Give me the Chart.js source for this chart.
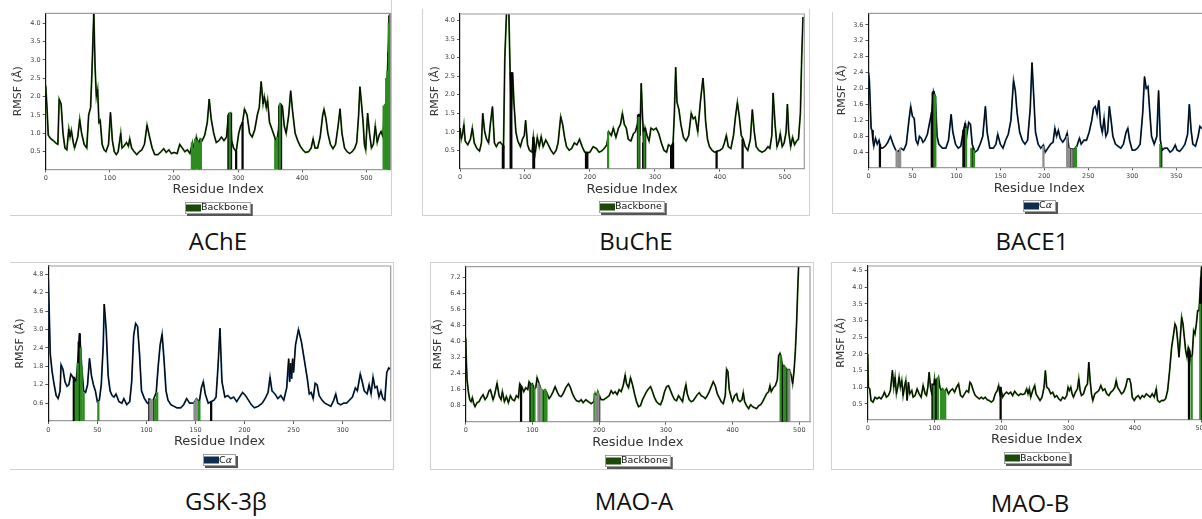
<!DOCTYPE html>
<html>
<head>
<meta charset="utf-8">
<script src="https://cdn.jsdelivr.net/npm/chart.js@4.4.1/dist/chart.umd.min.js"></script>
<style>
  body { margin: 0; width: 1202px; height: 519px; overflow: hidden; position: relative; background: #fff; }
  .frame { position: absolute; box-sizing: border-box; border: 0 solid #d0d0d0; }
  .name { position: absolute; font-family: "Open Sans", sans-serif; font-size: 24px; color: #111; transform: translate(-50%, -50%); white-space: nowrap; }
  canvas { position: absolute; }
</style>
</head>
<body>
<div class="frame" style="left:10px;top:-2px;width:382px;height:218px;border-right-width:1px;border-bottom-width:1px"></div>
<div class="frame" style="left:422px;top:9px;width:388px;height:207px;border-left-width:1px;border-right-width:1px;border-bottom-width:1px"></div>
<div class="frame" style="left:832px;top:12px;width:400px;height:202px;border-left-width:1px;border-bottom-width:1px"></div>
<div class="frame" style="left:10px;top:262px;width:384px;height:208px;border-top-width:1px;border-right-width:1px;border-bottom-width:1px"></div>
<div class="frame" style="left:430px;top:262px;width:384px;height:208px;border-width:1px"></div>
<div class="frame" style="left:831px;top:262px;width:400px;height:208px;border-left-width:1px;border-top-width:1px;border-bottom-width:1px"></div>

<div class="name" style="left:218px;top:240px">AChE</div>
<div class="name" style="left:636px;top:240px">BuChE</div>
<div class="name" style="left:1032px;top:240px">BACE1</div>
<div class="name" style="left:226px;top:500px">GSK-3β</div>
<div class="name" style="left:634px;top:500px">MAO-A</div>
<div class="name" style="left:1030px;top:502px">MAO-B</div>

<script>
// tick labels
var res500Ticks = [0, 100, 200, 300, 400, 500];
var res350Ticks = [0, 50, 100, 150, 200, 250, 300, 350];
var res300Ticks = [0, 50, 100, 150, 200, 250, 300];
var acheYTicks = [0.5, 1.0, 1.5, 2.0, 2.5, 3.0, 3.5, 4.0];
var buchYTicks = [0.5, 1.0, 1.5, 2.0, 2.5, 3.0, 3.5, 4.0];
var baceYTicks = [0.4, 0.8, 1.2, 1.6, 2.0, 2.4, 2.8, 3.2, 3.6];
var gskYTicks = [0.6, 1.2, 1.8, 2.4, 3.0, 3.6, 4.2, 4.8];
var maoaYTicks = [0.8, 1.6, 2.4, 3.2, 4.0, 4.8, 5.6, 6.4, 7.2];
var maobYTicks = [0.5, 1.0, 1.5, 2.0, 2.5, 3.0, 3.5, 4.0, 4.5];

// ---- AChE (backbone) ----
var acheRes = [
  0, 2, 4, 8, 12, 16, 19, 21, 24, 27,
  30, 33, 36, 38, 40, 43, 45, 50, 53, 56,
  60, 64, 67, 70, 72, 75, 77, 79, 81, 83,
  85, 88, 91, 94, 98, 101, 104, 107, 110, 113,
  117, 119, 122, 126, 129, 131, 134, 138, 142, 146,
  150, 154, 158, 162, 166, 170, 175, 180, 184, 188,
  192, 196, 200, 205, 209, 213, 217, 221, 225, 229,
  232, 235, 238, 241, 244, 248, 252, 255, 258, 262,
  266, 270, 274, 278, 282, 285, 288, 290, 293, 297,
  301, 304, 307, 310, 314, 318, 322, 326, 330, 333,
  336, 339, 341, 344, 346, 349, 353, 357, 360, 363,
  366, 369, 372, 375, 379, 382, 385, 389, 393, 397,
  401, 405, 410, 414, 417, 420, 424, 428, 432, 434,
  437, 440, 444, 448, 452, 456, 459, 462, 466, 470,
  474, 478, 482, 485, 488, 490, 492, 495, 497, 499,
  502, 505, 508, 511, 514, 517, 520, 523, 526, 528,
  531, 533, 536, 538];
var acheRmsf = [
  2.3, 1.7, 0.95, 0.85, 0.8, 0.73, 0.7, 1.93, 1.8, 1.0,
  0.6, 0.55, 1.12, 0.9, 1.08, 0.75, 0.6, 0.9, 1.38, 1.0,
  0.7, 0.6, 1.5, 1.7, 2.6, 4.3, 2.8, 2.0, 2.2, 1.3,
  1.35, 0.7, 0.55, 0.5, 0.7, 1.57, 0.8, 0.5, 0.42, 0.5,
  1.0, 0.6, 0.65, 0.75, 0.65, 0.85, 0.6, 0.5, 0.42, 0.5,
  0.55, 0.7, 1.22, 0.9, 0.6, 0.42, 0.42, 0.5, 0.58, 0.48,
  0.55, 0.45, 0.48, 0.45, 0.7, 0.6, 0.5, 0.55, 0.45, 0.75,
  0.5, 0.9, 0.7, 0.85, 0.8, 0.95, 1.3, 1.93, 1.4, 1.0,
  0.75, 0.8, 0.9, 0.8, 0.9, 1.5, 1.55, 0.8, 0.6, 0.5,
  1.0, 1.2, 1.3, 1.66, 1.5, 1.0, 0.9, 1.1, 1.5, 1.7,
  2.41, 1.8, 2.0, 1.7, 1.9, 1.3, 1.1, 0.9, 0.7, 1.1,
  1.8, 1.75, 1.2, 1.0, 1.5, 2.16, 1.6, 1.0, 0.8, 0.65,
  0.55, 0.48, 0.5, 0.6, 0.85, 0.6, 0.6, 0.9, 1.5, 1.65,
  1.4, 1.0, 0.7, 0.58, 0.7, 1.2, 1.67, 1.0, 0.6, 0.5,
  0.45, 0.5, 0.6, 0.75, 1.5, 2.27, 1.9, 1.3, 0.7, 0.55,
  1.55, 1.0, 0.6, 0.7, 1.2, 0.75, 0.95, 1.05, 0.9, 1.7,
  1.8, 2.7, 4.2, 4.3];
var acheGreenRes = [228, 230, 233, 236, 239, 242, 287, 358, 361, 365, 527, 529, 531, 533, 535, 537];
var acheGreenRmsf = [0.75, 0.6, 0.85, 0.8, 0.75, 0.85, 1.55, 0.8, 0.9, 1.8, 1.75, 1.8, 2.5, 2.7, 4.0, 4.25];
var acheDarkRes = [231, 240, 285, 286, 289, 297, 307, 364, 366, 367, 534, 536];
var acheDarkRmsf = [0.5, 0.8, 1.5, 1.55, 1.55, 0.5, 1.3, 1.75, 1.8, 1.75, 3.2, 4.2];

// ---- BuChE (backbone) ----
var buchRes = [
  0, 2, 4, 6, 8, 12, 16, 19, 22, 26,
  30, 33, 35, 38, 41, 44, 47, 50, 53, 56,
  59, 62, 65, 67, 69, 72, 75, 77, 79, 81,
  83, 86, 89, 93, 96, 99, 101, 104, 107, 111,
  113, 116, 119, 122, 125, 128, 132, 136, 140, 144,
  148, 151, 155, 158, 161, 164, 168, 172, 176, 180,
  184, 188, 192, 196, 200, 205, 210, 214, 218, 222,
  226, 229, 233, 236, 240, 244, 247, 250, 253, 256,
  259, 263, 267, 270, 273, 275, 277, 279, 281, 283,
  285, 288, 291, 294, 298, 302, 306, 310, 314, 318,
  321, 325, 328, 330, 332, 334, 337, 340, 344, 348,
  352, 356, 359, 362, 366, 370, 374, 376, 378, 381,
  384, 388, 392, 396, 400, 404, 407, 410, 413, 417,
  421, 424, 427, 430, 433, 436, 439, 443, 447, 450,
  453, 456, 460, 465, 470, 474, 477, 480, 482, 485,
  488, 491, 493, 496, 499, 502, 504, 506, 509, 512,
  515, 518, 521, 524, 526, 528];
var buchRmsf = [
  1.1, 0.8, 0.95, 1.19, 0.75, 0.65, 0.8, 1.1, 0.7, 0.55,
  0.48, 0.7, 1.5, 1.0, 0.8, 0.7, 1.25, 1.68, 0.7, 0.6,
  0.7, 0.72, 0.65, 0.6, 3.0, 4.4, 4.4, 2.7, 1.6, 2.6,
  1.8, 1.0, 0.75, 0.6, 0.8, 0.9, 1.31, 0.65, 0.5, 0.45,
  0.87, 0.45, 0.85, 0.6, 0.87, 0.6, 0.78, 0.65, 0.5, 0.4,
  0.5, 0.7, 1.41, 1.2, 0.85, 0.6, 0.5, 0.55, 0.7, 0.65,
  0.8, 0.6, 0.45, 0.43, 0.45, 0.6, 0.55, 0.45, 0.48, 0.55,
  0.65, 1.0, 0.9, 1.1, 0.85, 1.1, 1.2, 1.5, 1.2, 1.1,
  0.8, 0.75, 0.95, 1.0, 1.2, 1.48, 0.9, 2.31, 1.4, 0.7,
  1.1, 0.9, 0.75, 1.1, 1.05, 1.1, 0.95, 0.7, 0.5, 0.45,
  0.65, 0.6, 0.7, 1.5, 2.74, 1.8, 1.6, 1.2, 0.85, 0.75,
  0.9, 1.5, 1.35, 1.4, 1.0, 1.8, 2.45, 2.0, 1.3, 0.8,
  0.6, 0.5, 0.45, 0.48, 0.5, 0.55, 0.7, 0.9, 0.6, 0.55,
  0.9, 1.4, 1.79, 1.4, 0.9, 0.8, 0.6, 0.5, 0.8, 1.6,
  1.0, 0.6, 0.5, 0.45, 0.5, 0.6, 0.55, 0.9, 2.05, 1.2,
  0.6, 0.75, 0.95, 0.6, 0.7, 1.0, 1.75, 1.0, 0.6, 0.85,
  0.65, 0.75, 0.8, 1.5, 3.0, 4.1];
var buchGreenRes = [228, 275, 284];
var buchGreenRmsf = [1.0, 1.4, 1.0];
var buchDarkRes = [66, 67, 78, 79, 113, 114, 194, 195, 196, 274, 276, 282, 283, 285, 325, 327, 328, 395, 435];
var buchDarkRmsf = [0.6, 0.62, 2.6, 2.6, 0.85, 0.5, 0.45, 0.43, 0.45, 1.45, 1.48, 0.7, 1.1, 1.1, 0.6, 0.65, 0.7, 0.46, 0.8];

// ---- BACE1 (C-alpha) ----
var baceRes = [
  0, 1, 3, 4, 5, 6, 8, 10, 12, 14,
  16, 19, 22, 25, 28, 31, 34, 37, 40, 43,
  46, 48, 50, 52, 54, 56, 58, 60, 62, 64,
  67, 70, 72, 74, 76, 78, 80, 84, 88, 91,
  94, 96, 99, 102, 105, 108, 110, 112, 114, 116,
  118, 121, 124, 127, 130, 133, 135, 138, 142, 145,
  147, 150, 153, 156, 159, 162, 165, 167, 169, 172,
  175, 178, 181, 184, 186, 188, 190, 193, 196, 199,
  201, 204, 207, 210, 212, 214, 216, 218, 221, 224,
  226, 228, 231, 234, 237, 240, 242, 245, 248, 251,
  254, 256, 258, 260, 262, 264, 266, 268, 270, 272,
  274, 276, 278, 281, 284, 287, 290, 293, 295, 297,
  300, 303, 306, 309, 312, 314, 316, 318, 320, 322,
  325, 328, 330, 332, 334, 337, 340, 343, 346, 349,
  351, 354, 357, 360, 363, 365, 367, 369, 372, 375,
  377, 379, 381, 385];
var baceRmsf = [
  2.4, 2.2, 1.0, 0.95, 0.7, 0.55, 0.75, 0.6, 0.7, 0.5,
  0.5, 0.55, 0.65, 0.8, 0.6, 0.45, 0.4, 0.5, 0.45, 0.6,
  1.2, 1.55, 1.3, 1.25, 0.7, 0.6, 0.8, 0.75, 0.65, 0.7,
  0.85, 1.2, 1.4, 1.93, 1.8, 0.8, 0.6, 0.5, 0.5, 0.7,
  1.35, 0.9, 0.6, 0.5, 0.55, 0.95, 1.12, 0.85, 1.15, 1.1,
  0.6, 0.4, 0.45, 0.6, 0.8, 1.55, 0.9, 0.5, 0.5, 0.6,
  0.85, 0.6, 0.5, 0.7, 0.85, 1.2, 2.2, 1.95, 1.4, 0.9,
  0.7, 0.6, 0.7, 1.5, 2.65, 1.8, 0.9, 0.6, 0.5, 0.58,
  0.4, 0.5, 0.6, 0.65, 1.0, 0.8, 0.95, 0.75, 0.65, 0.75,
  0.88, 0.5, 0.48, 0.47, 0.55, 0.75, 0.6, 0.7, 0.7, 0.9,
  1.2, 1.5, 1.55, 1.35, 1.7, 1.1, 0.9, 1.25, 0.8, 0.9,
  1.55, 1.2, 0.8, 0.6, 0.55, 0.5, 0.6, 0.9, 1.0, 0.7,
  0.45, 0.45, 0.5, 0.6, 1.4, 2.3, 2.0, 2.05, 1.4, 0.8,
  0.6, 0.8, 1.95, 0.7, 0.45, 0.5, 0.5, 0.4, 0.45, 0.58,
  0.45, 0.42, 0.5, 0.6, 0.85, 1.6, 0.95, 0.6, 0.55, 0.8,
  1.05, 1.0, 1.0, 1.05];
var baceGreenRes = [75, 76, 111, 117, 120, 234, 236, 332];
var baceGreenRmsf = [1.85, 1.8, 1.0, 0.5, 0.45, 0.47, 0.55, 0.6];
var baceDarkRes = [13, 35, 72, 73, 74, 108, 110, 119, 230, 233, 333];
var baceDarkRmsf = [0.6, 0.45, 1.4, 1.9, 1.93, 0.95, 1.12, 0.5, 0.48, 0.47, 0.5];
var baceGreyRes = [32, 34, 36, 199, 226, 228, 231];
var baceGreyRmsf = [0.45, 0.4, 0.5, 0.55, 0.8, 0.5, 0.48];

// ---- GSK-3beta (C-alpha) ----
var gskRes = [
  0, 1, 2, 4, 6, 8, 10, 12, 13, 15,
  17, 19, 21, 23, 26, 28, 30, 32, 34, 36,
  38, 40, 42, 44, 46, 48, 50, 52, 54, 56,
  57, 59, 61, 63, 65, 67, 69, 72, 75, 77,
  80, 83, 85, 87, 89, 91, 93, 95, 98, 101,
  104, 107, 110, 112, 114, 116, 118, 120, 122, 125,
  128, 131, 135, 138, 141, 144, 148, 151, 154, 156,
  158, 160, 163, 166, 169, 171, 173, 175, 177, 180,
  183, 186, 189, 192, 195, 198, 201, 204, 207, 210,
  214, 218, 221, 224, 226, 228, 231, 234, 237, 240,
  243, 245, 246, 247, 248, 249, 250, 252, 255, 258,
  261, 264, 266, 268, 270, 272, 274, 276, 279, 282,
  285, 288, 291, 293, 295, 298, 301, 304, 307, 310,
  313, 315, 318, 320, 322, 325, 327, 329, 331, 333,
  335, 337, 339, 341, 343, 345, 347, 349];
var gskRmsf = [
  4.65, 3.5, 2.2, 1.6, 1.2, 0.85, 0.75, 1.0, 1.85, 1.7,
  1.3, 1.15, 1.2, 1.55, 1.4, 1.2, 1.9, 2.88, 1.8, 1.0,
  0.95, 1.2, 2.06, 1.5, 1.2, 1.0, 0.65, 0.7, 1.2, 2.5,
  3.83, 3.0, 1.5, 1.0, 0.85, 0.8, 0.9, 0.65, 0.6, 0.75,
  0.55, 0.65, 1.3, 2.8, 3.2, 3.1, 2.2, 1.0, 0.75, 0.6,
  0.65, 0.7, 0.95, 1.8, 2.5, 2.85, 2.0, 1.0, 0.7, 0.55,
  0.5, 0.45, 0.45, 0.55, 0.75, 0.6, 0.6, 0.75, 0.65, 1.1,
  1.3, 0.9, 0.6, 0.65, 0.7, 0.8, 1.8, 3.04, 1.3, 0.8,
  0.85, 0.75, 0.8, 0.65, 0.8, 0.95, 0.85, 0.7, 0.55, 0.45,
  0.5, 0.6, 0.75, 0.95, 1.45, 1.0, 0.9, 0.75, 0.85, 0.7,
  1.1, 2.05, 1.3, 1.9, 1.4, 2.05, 1.6, 2.5, 3.0, 2.6,
  2.0, 1.4, 0.9, 0.95, 0.75, 1.25, 1.2, 0.85, 0.7, 0.6,
  0.55, 0.5, 0.7, 0.9, 0.6, 0.55, 0.6, 0.6, 0.7, 0.8,
  1.1, 1.0, 1.55, 1.3, 1.0, 0.9, 1.2, 0.9, 1.45, 1.1,
  1.15, 0.8, 1.0, 0.75, 0.7, 1.6, 1.75, 1.7];
var gskGreenRes = [28, 29, 30, 33, 34, 36, 51, 105, 109, 111, 153, 154];
var gskGreenRmsf = [1.3, 1.2, 1.9, 2.4, 1.8, 0.95, 0.65, 0.7, 0.75, 0.95, 0.68, 0.65];
var gskDarkRes = [26, 27, 31, 32, 103, 107, 166];
var gskDarkRmsf = [1.45, 1.4, 2.6, 2.85, 0.75, 0.7, 0.65];
var gskGreyRes = [104, 106, 149, 150, 151];
var gskGreyRmsf = [0.7, 0.72, 0.62, 0.7, 0.75];

// ---- MAO-A (backbone) ----
var maoaRes = [
  0, 1, 2, 4, 6, 8, 10, 12, 14, 17,
  20, 23, 26, 29, 32, 35, 37, 39, 41, 43,
  47, 50, 53, 55, 58, 61, 64, 67, 70, 73,
  76, 79, 81, 84, 87, 90, 93, 95, 98, 100,
  102, 105, 107, 110, 113, 116, 119, 122, 125, 128,
  131, 134, 137, 140, 143, 146, 150, 154, 157, 160,
  163, 166, 170, 173, 176, 180, 184, 188, 192, 194,
  196, 198, 200, 203, 207, 211, 215, 218, 221, 224,
  227, 230, 233, 236, 239, 241, 244, 247, 250, 253,
  256, 259, 262, 265, 268, 271, 274, 277, 280, 283,
  286, 289, 292, 295, 298, 301, 304, 307, 310, 313,
  316, 319, 322, 325, 327, 330, 332, 335, 338, 341,
  344, 347, 350, 353, 356, 359, 362, 365, 368, 371,
  374, 377, 380, 383, 386, 389, 391, 393, 395, 398,
  400, 403, 406, 408, 411, 414, 416, 418, 421, 424,
  427, 430, 433, 436, 439, 442, 445, 448, 451, 454,
  456, 458, 461, 464, 467, 469, 471, 473, 475, 477,
  479, 482, 485, 488, 490, 492, 494, 496, 498, 499];
var maoaRmsf = [
  4.2, 3.0, 2.1, 1.5, 1.1, 1.0, 1.2, 0.9, 0.75, 0.95,
  1.0, 1.2, 1.35, 1.1, 1.25, 1.55, 1.6, 1.35, 1.1, 1.3,
  1.92, 1.3, 1.1, 1.5, 1.0, 1.25, 0.95, 1.3, 1.1, 1.05,
  1.3, 1.2, 1.9, 1.75, 1.5, 1.7, 1.6, 2.0, 1.85, 1.9,
  1.6, 1.7, 2.2, 1.9, 1.6, 1.5, 1.6, 1.4, 1.15, 1.3,
  1.5, 1.75, 1.5, 1.3, 1.25, 1.4, 1.7, 1.9, 1.7, 1.4,
  1.2, 1.05, 1.0, 1.1, 0.95, 1.1, 1.0, 0.9, 1.0, 1.4,
  1.2, 1.5, 1.3, 1.1, 1.1, 1.2, 1.3, 1.55, 1.4, 1.5,
  1.35, 1.6, 1.5, 1.8, 2.33, 1.9, 1.7, 2.2, 1.85, 1.4,
  1.0, 0.75, 0.8, 1.1, 1.3, 1.5, 1.65, 1.75, 1.5, 1.2,
  1.0, 0.9, 0.85, 1.1, 1.5, 1.75, 1.8, 1.55, 1.3, 1.1,
  1.05, 1.3, 1.15, 1.0, 1.4, 1.85, 1.4, 1.1, 1.0, 1.05,
  1.2, 1.35, 1.45, 1.3, 1.25, 1.15, 1.3, 1.5, 1.75, 2.0,
  1.8, 1.4, 1.2, 1.0, 0.9, 1.3, 2.63, 2.5, 1.6, 1.2,
  1.0, 1.3, 1.4, 1.1, 1.0, 1.1, 1.45, 1.0, 0.8, 0.65,
  0.85, 0.75, 0.7, 0.65, 0.8, 0.85, 1.0, 1.2, 1.4, 1.5,
  1.8, 1.5, 1.7, 1.8, 2.1, 3.3, 3.42, 3.2, 2.6, 2.8,
  2.7, 2.6, 2.6, 2.3, 1.9, 2.5, 3.5, 5.0, 7.0, 7.8];
var maoaGreenRes = [99, 103, 111, 115, 119, 121, 193, 198, 472, 477, 479, 483];
var maoaGreenRmsf = [1.85, 1.7, 1.8, 1.6, 1.6, 1.45, 1.4, 1.5, 3.3, 2.75, 2.7, 2.6];
var maoaDarkRes = [83, 97, 98, 101, 117, 196, 200, 474, 476, 481];
var maoaDarkRmsf = [1.75, 1.85, 1.85, 1.8, 1.5, 1.2, 1.3, 2.8, 2.75, 2.6];
var maoaGreyRes = [109, 113, 195, 199, 485];
var maoaGreyRmsf = [1.9, 1.65, 1.3, 1.4, 2.55];

// ---- MAO-B (backbone) ----
var maobRes = [
  0, 1, 3, 5, 8, 11, 14, 17, 20, 23,
  25, 28, 31, 34, 37, 39, 41, 43, 45, 47,
  49, 51, 53, 55, 57, 59, 61, 63, 66, 68,
  71, 74, 77, 80, 83, 86, 88, 90, 92, 94,
  96, 98, 100, 102, 104, 106, 108, 110, 112, 115,
  118, 121, 124, 127, 130, 133, 136, 139, 142, 145,
  148, 151, 153, 155, 158, 161, 164, 167, 170, 173,
  176, 179, 182, 185, 188, 191, 194, 196, 198, 200,
  202, 205, 208, 211, 214, 217, 220, 223, 226, 229,
  232, 235, 238, 240, 242, 244, 247, 250, 252, 255,
  258, 261, 264, 266, 268, 271, 274, 277, 280, 283,
  286, 289, 292, 295, 298, 300, 302, 304, 306, 308,
  311, 314, 316, 318, 320, 323, 326, 329, 331, 333,
  335, 337, 340, 343, 346, 349, 352, 355, 358, 361,
  364, 367, 370, 372, 374, 377, 380, 383, 386, 389,
  392, 394, 396, 399, 402, 405, 408, 411, 414, 417,
  420, 423, 426, 429, 432, 434, 437, 440, 443, 446,
  449, 452, 455, 458, 460, 462, 464, 466, 468, 470,
  472, 474, 476, 478, 480, 482, 484, 486, 488, 490,
  492, 494, 496, 498, 500];
var maobRmsf = [
  2.0, 1.0, 0.95, 0.6, 0.55, 0.7, 0.65, 0.7, 0.65, 0.75,
  0.85, 0.7, 0.75, 0.9, 1.51, 1.0, 1.3, 0.8, 1.0, 1.3,
  1.0, 1.2, 0.75, 1.0, 1.2, 0.6, 1.15, 0.8, 0.9, 0.7,
  0.75, 0.95, 0.8, 0.7, 1.05, 0.8, 0.75, 1.0, 1.45, 1.0,
  0.8, 0.85, 1.25, 0.9, 1.2, 1.3, 1.0, 0.9, 0.95, 0.85,
  0.95, 0.8, 0.9, 0.95, 0.85, 1.0, 1.1, 0.75, 0.7, 0.8,
  0.9, 0.85, 1.15, 1.1, 0.9, 0.75, 0.7, 0.65, 0.7, 0.65,
  0.7, 0.62, 0.6, 0.55, 0.6, 0.8, 0.9, 1.05, 0.8, 0.9,
  0.7, 0.8, 0.85, 0.8, 0.85, 0.75, 0.88, 0.8, 0.75, 0.8,
  0.78, 0.8, 0.95, 0.8, 0.95, 0.7, 0.9, 1.05, 0.8, 0.7,
  0.6, 0.7, 1.0, 1.5, 1.0, 0.95, 0.8, 0.85, 0.7, 0.75,
  0.65, 0.6, 0.7, 0.65, 0.75, 1.0, 0.9, 1.0, 0.8, 0.7,
  0.85, 0.95, 1.25, 0.9, 0.75, 0.8, 1.0, 1.1, 1.75, 1.2,
  0.8, 0.6, 0.8, 0.85, 0.9, 1.05, 0.9, 0.95, 0.8, 0.75,
  0.85, 0.9, 1.0, 1.2, 1.0, 0.9, 0.8, 0.85, 1.0, 1.25,
  1.25, 1.1, 0.7, 0.6, 0.7, 0.75, 0.65, 0.75, 0.7, 0.8,
  0.75, 0.7, 0.8, 0.7, 0.95, 0.6, 0.55, 0.6, 0.6, 0.65,
  0.9, 1.5, 2.2, 2.6, 2.9, 2.8, 2.4, 1.9, 2.5, 3.1,
  2.9, 2.5, 2.1, 1.9, 2.2, 2.1, 1.8, 2.0, 2.7, 2.6,
  2.9, 3.3, 3.3, 4.0, 4.7];
var maobGreenRes = [99, 105, 110, 113, 116, 485, 498];
var maobGreenRmsf = [1.05, 1.3, 0.9, 0.95, 0.9, 1.9, 3.5];
var maobDarkRes = [97, 101, 103, 199, 481, 499, 501];
var maobDarkRmsf = [1.1, 1.2, 1.25, 1.0, 2.1, 4.3, 4.6];

var GREEN = '#2e8c21', DARK = '#050505', GREY = '#8e8e8e';

// panel geometry (page pixels)
var panels = [
  { res: acheRes, rmsf: acheRmsf, kind: 'Backbone', xMax: 538, yMin: 0.02, yMax: 4.27, xTicks: res500Ticks, yTicks: acheYTicks,
    contacts: [[acheGreenRes, acheGreenRmsf, GREEN], [acheDarkRes, acheDarkRmsf, DARK]],
    left: 10, plot: [45.7, 13.3, 390.7, 169.3], xTitleY: 190, yTitleX: 18, legendY: 207.5 },
  { res: buchRes, rmsf: buchRmsf, kind: 'Backbone', xMax: 530, yMin: 0.01, yMax: 4.18, xTicks: res500Ticks, yTicks: buchYTicks,
    contacts: [[buchGreenRes, buchGreenRmsf, GREEN], [buchDarkRes, buchDarkRmsf, DARK]],
    left: 423, plot: [460, 14, 804.3, 168.5], xTitleY: 190, yTitleX: 435, legendY: 206.5 },
  { res: baceRes, rmsf: baceRmsf, kind: 'Ca', xMax: 388.5, yMin: 0.02, yMax: 3.89, xTicks: res350Ticks, yTicks: baceYTicks,
    contacts: [[baceGreyRes, baceGreyRmsf, GREY], [baceGreenRes, baceGreenRmsf, GREEN], [baceDarkRes, baceDarkRmsf, DARK]],
    left: 833, plot: [868.5, 13.3, 1210, 167.3], xTitleY: 188.3, yTitleX: 842, legendY: 205.5 },
  { res: gskRes, rmsf: gskRmsf, kind: 'Ca', xMax: 349, yMin: 0.02, yMax: 5.07, xTicks: res300Ticks, yTicks: gskYTicks,
    contacts: [[gskGreyRes, gskGreyRmsf, GREY], [gskGreenRes, gskGreenRmsf, GREEN], [gskDarkRes, gskDarkRmsf, DARK]],
    left: 10, plot: [48.3, 266, 390.7, 421], xTitleY: 441.7, yTitleX: 20, legendY: 460 },
  { res: maoaRes, rmsf: maoaRmsf, kind: 'Backbone', xMax: 516, yMin: 0, yMax: 7.75, xTicks: res500Ticks, yTicks: maoaYTicks,
    contacts: [[maoaGreyRes, maoaGreyRmsf, GREY], [maoaGreenRes, maoaGreenRmsf, GREEN], [maoaDarkRes, maoaDarkRmsf, DARK]],
    left: 431, plot: [465.7, 266.7, 810, 421.7], xTitleY: 442.7, yTitleX: 438, legendY: 460.5 },
  { res: maobRes, rmsf: maobRmsf, kind: 'Backbone', xMax: 506, yMin: 0.03, yMax: 4.64, xTicks: res500Ticks, yTicks: maobYTicks,
    contacts: [[maobGreenRes, maobGreenRmsf, GREEN], [maobDarkRes, maobDarkRmsf, DARK]],
    left: 832, plot: [867.7, 266, 1205.7, 419.5], xTitleY: 440, yTitleX: 841, legendY: 458 }
];

function drawPanel(p) {
  var top = Math.floor(p.plot[1]) - 8;
  var right = Math.ceil(p.plot[2]) + 8;
  var bottom = Math.ceil(p.legendY) + 10;
  var w = right - p.left, h = bottom - top;

  var cv = document.createElement('canvas');
  cv.width = w; cv.height = h;
  cv.style.left = p.left + 'px';
  cv.style.top = top + 'px';
  cv.style.width = w + 'px';
  cv.style.height = h + 'px';
  document.body.appendChild(cv);

  var halo = p.kind === 'Backbone' ? '#2f6b14' : '#24527f';
  var patch = p.kind === 'Backbone' ? '#1c4a08' : '#0f2e4f';

  var datasets = [
    { type: 'line', data: p.res.map(function(r, i) { return {x: r, y: p.rmsf[i]}; }),
      borderColor: halo, borderWidth: 1.8, pointRadius: 0, tension: 0, fill: false, order: 3 },
    { type: 'line', data: p.res.map(function(r, i) { return {x: r, y: p.rmsf[i]}; }),
      borderColor: '#000', borderWidth: 1.0, pointRadius: 0, tension: 0, fill: false, order: 2 }
  ];
  p.contacts.forEach(function(c) {
    datasets.push({
      type: 'bar',
      data: c[0].map(function(r, i) { return {x: r, y: c[1][i]}; }),
      backgroundColor: c[2], borderWidth: 0, barThickness: 1.6, grouped: false, order: 1
    });
  });

  var tickFont = {family: 'DejaVu Sans', size: 6.5};

  // top/right spines and the boxed legend below the axis title
  var extras = {
    id: 'extras',
    afterDraw: function(chart) {
      var ctx = chart.ctx, a = chart.chartArea;
      ctx.save();
      ctx.strokeStyle = '#9c9c9c';
      ctx.lineWidth = 1.2;
      ctx.beginPath();
      ctx.moveTo(a.left, a.top);
      ctx.lineTo(a.right, a.top);
      ctx.lineTo(a.right, a.bottom);
      ctx.stroke();

      var cx = (a.left + a.right) / 2, cy = p.legendY - top;
      ctx.font = '9.5px "DejaVu Sans"';
      var tw = p.kind === 'Backbone' ? ctx.measureText('Backbone').width : 14;
      var bw = 16 + tw + 3, bh = 12;
      var x0 = Math.round(cx - bw / 2), y0 = Math.round(cy - bh / 2);
      ctx.fillStyle = '#555';
      ctx.fillRect(x0 + 2, y0 + 2, bw, bh);
      ctx.fillStyle = '#fff';
      ctx.fillRect(x0, y0, bw, bh);
      ctx.strokeStyle = '#888';
      ctx.lineWidth = 0.8;
      ctx.strokeRect(x0 + 0.5, y0 + 0.5, bw - 1, bh - 1);
      ctx.fillStyle = patch;
      ctx.fillRect(x0 + 1, y0 + 2.5, 15, 7);
      ctx.fillStyle = '#111';
      ctx.textBaseline = 'middle';
      if (p.kind === 'Backbone') {
        ctx.fillText('Backbone', x0 + 16, cy + 0.5);
      } else {
        ctx.fillText('C', x0 + 16, cy + 0.5);
        var cw = ctx.measureText('C').width;
        ctx.font = 'italic 9.5px "DejaVu Sans"';
        ctx.fillText('α', x0 + 16 + cw, cy + 0.5);
      }
      ctx.restore();
    }
  };

  new Chart(cv, {
    type: 'line',
    data: { datasets: datasets },
    options: {
      responsive: false,
      animation: false,
      devicePixelRatio: 1,
      events: [],
      layout: { padding: { left: 0, top: p.plot[1] - top, right: right - p.plot[2], bottom: 0 } },
      plugins: { legend: { display: false }, tooltip: { enabled: false } },
      scales: {
        x: {
          type: 'linear', min: 0, max: p.xMax, offset: false,
          afterBuildTicks: function(s) { s.ticks = p.xTicks.map(function(v) { return {value: v}; }); },
          afterFit: function(s) { s.height = bottom - p.plot[3]; },
          ticks: { font: tickFont, color: '#444', padding: 2, maxRotation: 0, autoSkip: false },
          grid: { drawOnChartArea: false, tickLength: 3, color: '#555', offset: false },
          border: { display: true, color: '#9c9c9c', width: 1.2 },
          title: { display: true, text: 'Residue Index', color: '#333',
                   font: { family: 'DejaVu Sans', size: 13 },
                   padding: { top: 0, bottom: bottom - p.xTitleY - 7.8 } }
        },
        y: {
          type: 'linear', min: p.yMin, max: p.yMax,
          afterBuildTicks: function(s) { s.ticks = p.yTicks.map(function(v) { return {value: v}; }); },
          afterFit: function(s) { s.width = p.plot[0] - p.left; },
          ticks: { font: tickFont, color: '#444', padding: 2, callback: function(v) { return v.toFixed(1); } },
          grid: { drawOnChartArea: false, tickLength: 3, color: '#555' },
          border: { display: true, color: '#111', width: 1.2 },
          title: { display: true, text: 'RMSF (Å)', color: '#333',
                   font: { family: 'DejaVu Sans', size: 11 },
                   padding: { top: p.yTitleX - p.left - 6.6, bottom: 0 } }
        }
      }
    },
    plugins: [extras]
  });
}

panels.forEach(drawPanel);
</script>
</body>
</html>
